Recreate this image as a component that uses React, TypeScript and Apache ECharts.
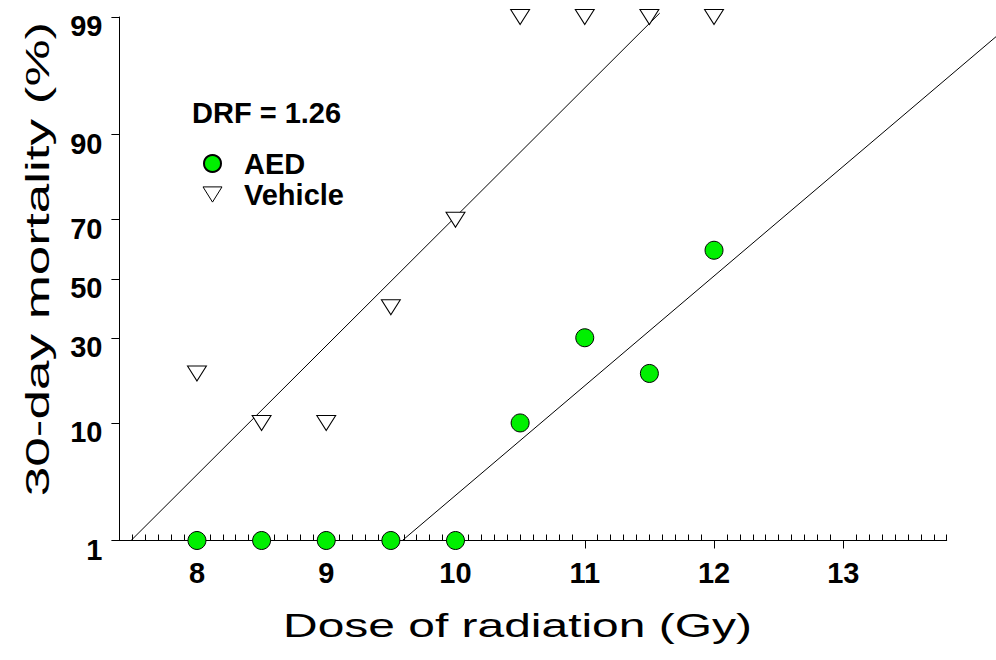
import React, { useEffect, useRef } from "react";
import * as echarts from "echarts";

// ---- data ----
const doses = [8, 8.5, 9, 9.5, 10, 10.5, 11, 11.5, 12];
const aedMortality = [1, 1, 1, 1, 1, 10, 30, 20, 60];
const vehicleMortality = [20, 10, 10, 40, 70, 99, 99, 99, 99];
const yTickPercents = [1, 10, 30, 50, 70, 90, 99];
const xTickValues = [8, 9, 10, 11, 12, 13];
const xRange = [7.4, 13.8];
// probit regression fits: probit = (dose - ld50) * slope, drawn over dose range [from, to]
const vehicleFit = { ld50: 9.52, slope: 1.146, from: 7.49, to: 11.58 };
const aedFit = { ld50: 11.975, slope: 0.975, from: 9.59, to: 14.4 };
const drfText = "DRF = 1.26";

// inverse standard normal CDF (Acklam)
function probit(p: number): number {
  const a = [-3.969683028665376e1, 2.209460984245205e2, -2.759285104469687e2, 1.38357751867269e2, -3.066479806614716e1, 2.506628277459239];
  const b = [-5.447609879822406e1, 1.615858368580409e2, -1.556989798598866e2, 6.680131188771972e1, -1.328068155288572e1];
  const c = [-7.784894002430293e-3, -3.223964580411365e-1, -2.400758277161838, -2.549732539343734, 4.374664141464968, 2.938163982698783];
  const d = [7.784695709041462e-3, 3.224671290700398e-1, 2.445134137142996, 3.754408661907416];
  const pl = 0.02425;
  const ph = 1 - pl;
  if (p < pl) {
    const q = Math.sqrt(-2 * Math.log(p));
    return (((((c[0] * q + c[1]) * q + c[2]) * q + c[3]) * q + c[4]) * q + c[5]) / ((((d[0] * q + d[1]) * q + d[2]) * q + d[3]) * q + 1);
  }
  if (p <= ph) {
    const q = p - 0.5;
    const r = q * q;
    return ((((((a[0] * r + a[1]) * r + a[2]) * r + a[3]) * r + a[4]) * r + a[5]) * q) / (((((b[0] * r + b[1]) * r + b[2]) * r + b[3]) * r + b[4]) * r + 1);
  }
  const q = Math.sqrt(-2 * Math.log(1 - p));
  return -(((((c[0] * q + c[1]) * q + c[2]) * q + c[3]) * q + c[4]) * q + c[5]) / ((((d[0] * q + d[1]) * q + d[2]) * q + d[3]) * q + 1);
}

const FONT = '"Liberation Sans", Arial, sans-serif';

export default function App() {
  const ref = useRef<HTMLDivElement>(null);
  useEffect(() => {
    if (!ref.current) return;
    const chart = echarts.init(ref.current, null, { renderer: "svg" });
    const yTickProbits = yTickPercents.map((p) => probit(p / 100));
    const minorX: number[] = [];
    for (let i = Math.round(xRange[0] * 10) + 1; i <= Math.round(xRange[1] * 10); i++) {
      if (i % 10 !== 0) minorX.push(i / 10);
    }
    const fitRow = (f: { ld50: number; slope: number; from: number; to: number }) => [
      f.from,
      (f.from - f.ld50) * f.slope,
      f.to,
      (f.to - f.ld50) * f.slope,
    ];
    const labelFmt = (v: number) => {
      let best = 0;
      yTickProbits.forEach((pv, i) => {
        if (Math.abs(pv - v) < Math.abs(yTickProbits[best] - v)) best = i;
      });
      return String(yTickPercents[best]);
    };
    const renderFit = (params: any, api: any) => {
      const p1 = api.coord([api.value(0), api.value(1)]);
      const p2 = api.coord([api.value(2), api.value(3)]);
      return {
        type: "line",
        shape: { x1: p1[0], y1: p1[1], x2: p2[0], y2: p2[1] },
        style: { stroke: "#000", lineWidth: 1 },
      };
    };
    const option: any = {
      animation: false,
      backgroundColor: "#fff",
      textStyle: { fontFamily: FONT },
      grid: { left: 119.4, right: 49.3, top: 17, bottom: 119.5, outerBoundsMode: "none" },
      title: {
        text: drfText,
        left: 187,
        top: 93,
        padding: 5,
        textStyle: { fontSize: 29, fontWeight: "bold", color: "#000", fontFamily: FONT },
      },
      legend: {
        data: [
          { name: "AED" },
          {
            name: "Vehicle",
            icon: "path://M0,0L20,0L10,16Z",
            itemStyle: { color: "#fff", borderColor: "#000", borderWidth: 1 },
          },
        ],
        orient: "vertical",
        left: 197.5,
        top: 144,
        itemWidth: 19,
        itemHeight: 17,
        itemGap: 2,
        textStyle: { fontSize: 29, fontWeight: "bold", color: "#000", fontFamily: FONT, padding: [0, 0, 0, 17] },
      },
      xAxis: [
        {
          type: "value",
          min: xRange[0],
          max: xRange[1],
          position: "bottom",
          axisLine: { show: true, onZero: false, lineStyle: { color: "#000", width: 1 } },
          axisTick: { show: true, inside: false, length: 8, customValues: xTickValues, lineStyle: { color: "#000" } },
          axisLabel: {
            show: true,
            customValues: xTickValues,
            margin: 18,
            fontSize: 29,
            fontWeight: "bold",
            color: "#000",
            fontFamily: FONT,
          },
          splitLine: { show: false },
        },
        {
          type: "value",
          min: xRange[0],
          max: xRange[1],
          position: "bottom",
          axisLine: { show: false, onZero: false },
          axisTick: { show: true, inside: true, length: 6, customValues: minorX, lineStyle: { color: "#000" } },
          axisLabel: { show: false },
          splitLine: { show: false },
        },
      ],
      yAxis: {
        type: "value",
        min: probit(0.01),
        max: probit(0.99),
        axisLine: { show: true, onZero: false, lineStyle: { color: "#000", width: 1 } },
        axisTick: { show: true, inside: false, length: 8, customValues: yTickProbits, lineStyle: { color: "#000" } },
        axisLabel: {
          show: true,
          customValues: yTickProbits,
          formatter: labelFmt,
          margin: 17,
          verticalAlign: "top",
          lineHeight: 18,
          fontSize: 29,
          fontWeight: "bold",
          color: "#000",
          fontFamily: FONT,
        },
        splitLine: { show: false },
      },
      graphic: [
        {
          type: "text",
          x: 517.5,
          y: 625.5,
          scaleX: 1.41,
          style: {
            text: "Dose of radiation (Gy)",
            fontSize: 34,
            fontFamily: FONT,
            fill: "#000",
            align: "center",
            verticalAlign: "middle",
          },
        },
        {
          type: "text",
          x: 37,
          y: 259,
          rotation: Math.PI / 2,
          scaleX: 1.56,
          style: {
            text: "30-day mortality (%)",
            fontSize: 34,
            fontFamily: FONT,
            fill: "#000",
            align: "center",
            verticalAlign: "middle",
          },
        },
      ],
      series: [
        {
          name: "Vehicle fit",
          type: "custom",
          clip: false,
          renderItem: renderFit,
          encode: { x: [0, 2], y: [1, 3] },
          data: [fitRow(vehicleFit)],
          z: 1,
        },
        {
          name: "AED fit",
          type: "custom",
          clip: false,
          renderItem: renderFit,
          encode: { x: [0, 2], y: [1, 3] },
          data: [fitRow(aedFit)],
          z: 1,
        },
        {
          name: "AED",
          type: "scatter",
          clip: false,
          data: doses.map((d, i) => [d, probit(aedMortality[i] / 100)]),
          symbol: "circle",
          symbolSize: 18,
          itemStyle: { color: "#00f000", borderColor: "#000", borderWidth: 1, opacity: 1 },
          z: 3,
        },
        {
          name: "Vehicle",
          type: "scatter",
          clip: false,
          data: doses.map((d, i) => [d, probit(vehicleMortality[i] / 100)]),
          symbol: "triangle",
          symbolRotate: 180,
          symbolSize: [19, 15],
          itemStyle: { color: "#fff", borderColor: "#000", borderWidth: 1, opacity: 1 },
          z: 3,
        },
      ],
    };
    chart.setOption(option);
    return () => chart.dispose();
  }, []);
  return <div ref={ref} style={{ position: "fixed", left: 0, top: 0, width: 996, height: 660 }} />;
}
